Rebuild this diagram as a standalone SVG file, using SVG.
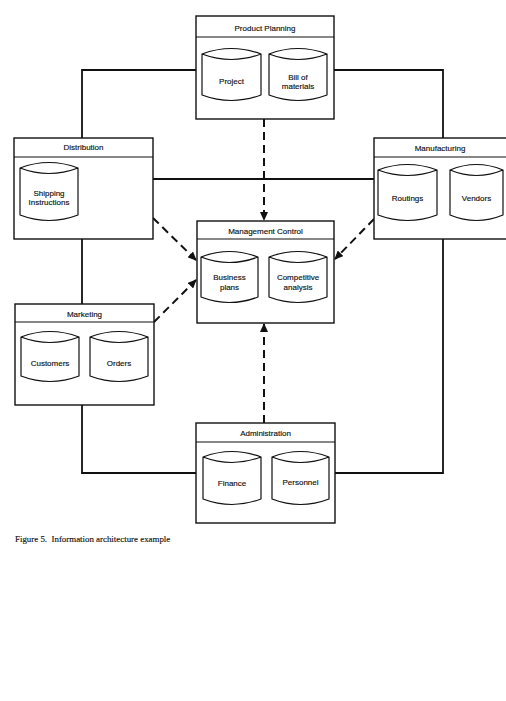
<svg xmlns="http://www.w3.org/2000/svg" width="506" height="701" viewBox="0 0 506 701">
<style>
.box{fill:#fff;stroke:#111;stroke-width:1.4}
.hdr{fill:none;stroke:#111;stroke-width:1.2}
.cyl{fill:#fff;stroke:#111;stroke-width:1.2;stroke-linejoin:round}
.t{font-family:"Liberation Sans",Arial,sans-serif;font-size:8px;fill:#111;text-anchor:middle;stroke:#111;stroke-width:0.15}
.solid{fill:none;stroke:#111;stroke-width:1.8}
.dash{fill:none;stroke:#111;stroke-width:2;stroke-dasharray:8 5}
.cap{font-family:"Liberation Serif","Times New Roman",serif;font-size:8.9px;fill:#111;white-space:pre;stroke:#111;stroke-width:0.15}
</style>
<defs>
<marker id="ah" markerUnits="userSpaceOnUse" markerWidth="9" markerHeight="8" refX="8" refY="4" orient="auto">
<path d="M0,0 L9,4 L0,8 Z" fill="#111"/>
</marker>
</defs>
<rect width="506" height="701" fill="#fff"/>

<g id="connectors">
<path class="solid" d="M196,70 H82 V138"/>
<path class="solid" d="M334,70 H443 V138"/>
<path class="solid" d="M82,239 V304"/>
<path class="solid" d="M82,405 V473 H196"/>
<path class="solid" d="M443,239 V473 H335"/>
<path class="solid" d="M153,179 H374"/>
<path class="dash" d="M264,119 V220" marker-end="url(#ah)"/>
<path class="dash" d="M264,423 V324" marker-end="url(#ah)"/>
<path class="dash" d="M153,218 L196,260" marker-end="url(#ah)"/>
<path class="dash" d="M154,322 L196,280" marker-end="url(#ah)"/>
<path class="dash" d="M374,219 L335,259" marker-end="url(#ah)"/>
</g>

<g id="product-planning">
<rect class="box" x="196" y="16" width="138" height="103"/>
<line class="hdr" x1="196" y1="37" x2="334" y2="37"/>
<text class="t" x="265" y="31">Product Planning</text>
<path class="cyl" d="M202,54 Q231.5,43 261,54 Q231.5,65 202,54 Z M202,54 L202,95 Q231.5,106 261,95 L261,54"/>
<text class="t" x="231.5" y="84">Project</text>
<path class="cyl" d="M269,54 Q298,43 327,54 Q298,65 269,54 Z M269,54 L269,95 Q298,106 327,95 L327,54"/>
<text class="t" x="298" y="80">Bill of</text>
<text class="t" x="298" y="89">materials</text>
</g>

<g id="distribution">
<rect class="box" x="14" y="138" width="139" height="101"/>
<line class="hdr" x1="14" y1="157" x2="153" y2="157"/>
<text class="t" x="83.5" y="150">Distribution</text>
<path class="cyl" d="M20,168 Q49,157 78,168 Q49,179 20,168 Z M20,168 L20,215 Q49,226 78,215 L78,168"/>
<text class="t" x="49" y="196">Shipping</text>
<text class="t" x="49" y="205">Instructions</text>
</g>

<g id="manufacturing">
<rect class="box" x="374" y="138" width="134" height="101"/>
<line class="hdr" x1="374" y1="157" x2="508" y2="157"/>
<text class="t" x="440" y="151">Manufacturing</text>
<path class="cyl" d="M378,170 Q407.5,159 437,170 Q407.5,181 378,170 Z M378,170 L378,215 Q407.5,226 437,215 L437,170"/>
<text class="t" x="407.5" y="201">Routings</text>
<path class="cyl" d="M450,170 Q476.5,159 503,170 Q476.5,181 450,170 Z M450,170 L450,215 Q476.5,226 503,215 L503,170"/>
<text class="t" x="476.5" y="201">Vendors</text>
</g>

<g id="management-control">
<rect class="box" x="197" y="221" width="137" height="102"/>
<line class="hdr" x1="197" y1="239" x2="334" y2="239"/>
<text class="t" x="265.5" y="234">Management Control</text>
<path class="cyl" d="M201,257 Q229.5,246 258,257 Q229.5,268 201,257 Z M201,257 L201,297 Q229.5,308 258,297 L258,257"/>
<text class="t" x="229.5" y="280">Business</text>
<text class="t" x="229.5" y="290">plans</text>
<path class="cyl" d="M269,257 Q298,246 327,257 Q298,268 269,257 Z M269,257 L269,297 Q298,308 327,297 L327,257"/>
<text class="t" x="298" y="280">Competitive</text>
<text class="t" x="298" y="290">analysis</text>
</g>

<g id="marketing">
<rect class="box" x="15" y="304" width="139" height="101"/>
<line class="hdr" x1="15" y1="322" x2="154" y2="322"/>
<text class="t" x="84.5" y="317">Marketing</text>
<path class="cyl" d="M21,337 Q50,326 79,337 Q50,348 21,337 Z M21,337 L21,376 Q50,387 79,376 L79,337"/>
<text class="t" x="50" y="366">Customers</text>
<path class="cyl" d="M90,337 Q119,326 148,337 Q119,348 90,337 Z M90,337 L90,376 Q119,387 148,376 L148,337"/>
<text class="t" x="119" y="366">Orders</text>
</g>

<g id="administration">
<rect class="box" x="196" y="423" width="139" height="100"/>
<line class="hdr" x1="196" y1="442" x2="335" y2="442"/>
<text class="t" x="265.5" y="436">Administration</text>
<path class="cyl" d="M203,457 Q232,446 261,457 Q232,468 203,457 Z M203,457 L203,499 Q232,510 261,499 L261,457"/>
<text class="t" x="232" y="486">Finance</text>
<path class="cyl" d="M272,457 Q300.5,446 329,457 Q300.5,468 272,457 Z M272,457 L272,499 Q300.5,510 329,499 L329,457"/>
<text class="t" x="300.5" y="485">Personnel</text>
</g>

<text class="cap" x="15" y="542">Figure 5.  Information architecture example</text>
</svg>
